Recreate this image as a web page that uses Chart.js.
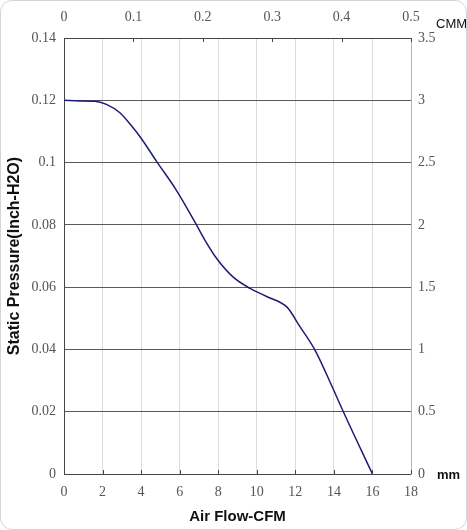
<!DOCTYPE html>
<html>
<head>
<meta charset="utf-8">
<script src="https://cdn.jsdelivr.net/npm/chart.js@4.4.1/dist/chart.umd.min.js"></script>
<style>
    html, body { margin: 0; padding: 0; background: #fff; }
    #caixa { position: relative; width: 467px; height: 530px; }
    #moldura {
        position: absolute; left: 0; top: 0; width: 467px; height: 530px;
        box-sizing: border-box; border: 1px solid #d4d4d4; border-radius: 12px;
        pointer-events: none;
    }
</style>
</head>
<body>
<div id="caixa">
    <canvas id="grafico_pressao" width="467" height="530"></canvas>
    <div id="moldura"></div>
</div>
<script>
// valores (CFM x Inch-H2O)
const vazaoCfm = [0, 0.8, 1.6, 2.2, 2.9, 3.5, 4.0, 4.8, 5.8, 6.8, 7.3, 7.92, 8.78, 9.65, 10.51, 11.58, 12.24, 13.02, 13.97, 14.49, 16.0];
const pressaoInch = [0.12, 0.1198, 0.1197, 0.1187, 0.1160, 0.1118, 0.1078, 0.1004, 0.0914, 0.0808, 0.0752, 0.0692, 0.0632, 0.0596, 0.0570, 0.0535, 0.0473, 0.0398, 0.0272, 0.0200, 0];

// rotulos dos eixos
const ticksCfm = [0, 2, 4, 6, 8, 10, 12, 14, 16, 18];
const ticksInch = [0, 0.02, 0.04, 0.06, 0.08, 0.1, 0.12, 0.14];
const labelsInch = ['0', '0.02', '0.04', '0.06', '0.08', '0.1', '0.12', '0.14'];
const ticksCmm = [0, 0.1, 0.2, 0.3, 0.4, 0.5];
const labelsCmm = ['0', '0.1', '0.2', '0.3', '0.4', '0.5'];
const ticksMm = [0, 0.5, 1, 1.5, 2, 2.5, 3, 3.5];
const labelsMm = ['0', '0.5', '1', '1.5', '2', '2.5', '3', '3.5'];

let pontos = [];
for (let i = 0; i < vazaoCfm.length; i++) {
    pontos.push({ x: vazaoCfm[i], y: pressaoInch[i] });
}

const fonteSerif = { family: '"Liberation Serif", "Times New Roman", serif', size: 14 };
const corTexto = '#555';

function fixarTicks(valores) {
    return function (scale) {
        scale.ticks = valores.map(v => ({ value: v }));
    };
}

// marcas internas pequenas nos eixos de cima e de baixo + textos CMM / mm
const pluginExtras = {
    id: 'extras',
    afterDatasetsDraw(chart) {
        const ctx = chart.ctx;
        const area = chart.chartArea;
        ctx.save();
        ctx.strokeStyle = '#444';
        ctx.lineWidth = 1;
        ticksCfm.forEach(v => {
            const px = Math.round(chart.scales.x.getPixelForValue(v)) + 0.5;
            ctx.beginPath();
            ctx.moveTo(px, area.bottom);
            ctx.lineTo(px, area.bottom - 4);
            ctx.stroke();
        });
        ticksCmm.forEach(v => {
            const px = Math.round(chart.scales.x2.getPixelForValue(v)) + 0.5;
            ctx.beginPath();
            ctx.moveTo(px, area.top);
            ctx.lineTo(px, area.top + 4);
            ctx.stroke();
        });
        ctx.fillStyle = '#111';
        ctx.textBaseline = 'middle';
        ctx.textAlign = 'left';
        ctx.font = '13px "Liberation Sans", Arial, sans-serif';
        ctx.fillText('CMM', 436, 24);
        ctx.font = 'bold 13px "Liberation Sans", Arial, sans-serif';
        ctx.fillText('mm', 437, 475);
        ctx.restore();
    }
};

const configPressao = {
    type: 'line',
    data: {
        datasets: [{
            label: 'Static Pressure',
            data: pontos,
            xAxisID: 'x',
            yAxisID: 'y',
            borderColor: '#1c1c78',
            borderWidth: 1.5,
            pointRadius: 0,
            fill: false,
            cubicInterpolationMode: 'monotone'
        }]
    },
    options: {
        responsive: false,
        animation: false,
        layout: { padding: 0 },
        plugins: {
            legend: { display: false },
            tooltip: { enabled: false }
        },
        scales: {
            x: {
                type: 'linear',
                position: 'bottom',
                min: 0,
                max: 18,
                afterBuildTicks: fixarTicks(ticksCfm),
                afterFit: function (scale) { scale.height = 56; },
                grid: { color: '#dcdcdc', drawTicks: false },
                border: { color: '#444' },
                ticks: { font: fonteSerif, color: corTexto, padding: 10, maxRotation: 0 },
                title: {
                    display: true,
                    text: 'Air Flow-CFM',
                    color: '#111',
                    font: { family: '"Liberation Sans", Arial, sans-serif', size: 15, weight: 'bold' },
                    padding: { top: 0, bottom: 4 }
                }
            },
            x2: {
                type: 'linear',
                position: 'top',
                min: 0,
                max: 0.5,
                afterBuildTicks: fixarTicks(ticksCmm),
                afterFit: function (scale) { scale.height = 38; },
                grid: { display: false, drawTicks: false },
                border: { color: '#444' },
                ticks: {
                    font: fonteSerif, color: corTexto, padding: 12, maxRotation: 0,
                    callback: function (v, i) { return labelsCmm[i]; }
                }
            },
            y: {
                type: 'linear',
                position: 'left',
                min: 0,
                max: 0.14,
                afterBuildTicks: fixarTicks(ticksInch),
                afterFit: function (scale) { scale.width = 64; },
                grid: { color: '#5a5a5a', drawTicks: false },
                border: { color: '#444' },
                ticks: {
                    font: fonteSerif, color: corTexto, padding: 8,
                    callback: function (v, i) { return labelsInch[i]; }
                },
                title: {
                    display: true,
                    text: 'Static Pressure(Inch-H2O)',
                    color: '#111',
                    font: { family: '"Liberation Sans", Arial, sans-serif', size: 16, weight: 'bold' },
                    padding: { top: 5, bottom: 0 }
                }
            },
            y2: {
                type: 'linear',
                position: 'right',
                min: 0,
                max: 3.5,
                afterBuildTicks: fixarTicks(ticksMm),
                afterFit: function (scale) { scale.width = 56; },
                grid: { display: false, drawTicks: false },
                border: { color: '#b4b4b4' },
                ticks: {
                    font: fonteSerif, color: corTexto, padding: 7,
                    callback: function (v, i) { return labelsMm[i]; }
                }
            }
        }
    },
    plugins: [pluginExtras]
};

let graficoPressao = new Chart(
    document.getElementById('grafico_pressao'),
    configPressao
);
</script>
</body>
</html>
